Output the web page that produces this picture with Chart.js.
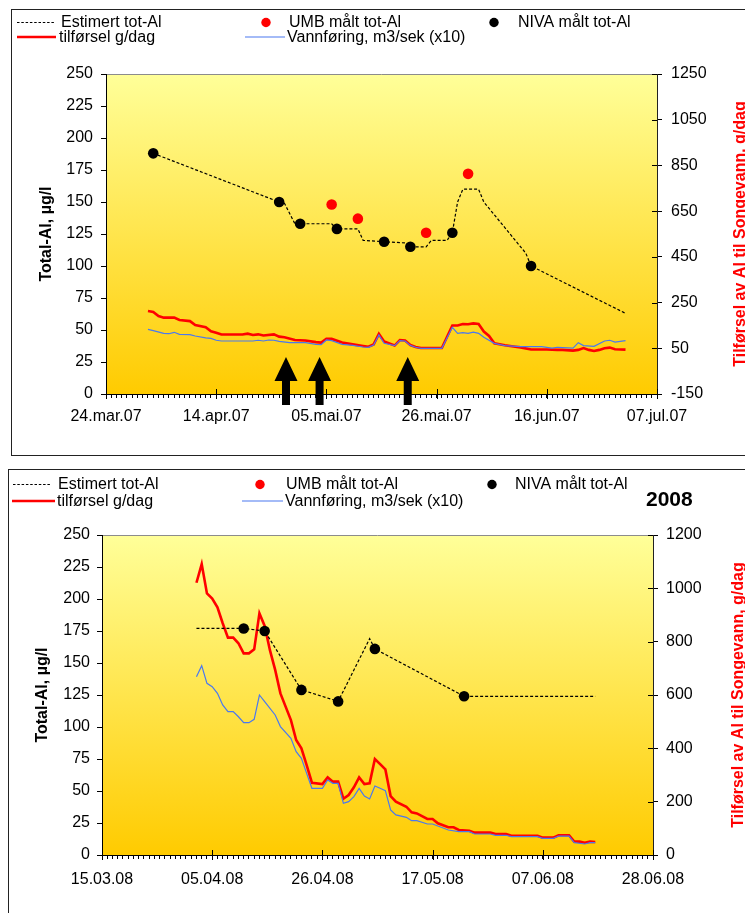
<!DOCTYPE html>
<html><head><meta charset="utf-8">
<script src="https://cdn.jsdelivr.net/npm/chart.js@4.4.1/dist/chart.umd.min.js"></script>
<style>
html,body{margin:0;padding:0;background:#fff;width:745px;height:913px;overflow:hidden;position:relative;}
.box{position:absolute;border:1.5px solid #222;box-sizing:border-box;}
#b1{left:11px;top:9px;width:760px;height:447px;}
#b2{left:8px;top:469px;width:760px;height:470px;}
canvas{position:absolute;left:0;}
#c1{top:0;}
#c2{top:462px;}
</style></head><body>
<div class="box" id="b1"></div><div class="box" id="b2"></div>
<canvas id="c1" width="745" height="460"></canvas>
<canvas id="c2" width="745" height="451"></canvas>
<script>
const FONT = "'Liberation Sans', Arial, Helvetica, sans-serif";

// ================= 2007 (x = days after 24.mar.07) =================
const xLabels07 = ['24.mar.07','14.apr.07','05.mai.07','26.mai.07','16.jun.07','07.jul.07'];
const rightTicks07 = [-150,50,250,450,650,850,1050,1250];
const estDay07 = [9,33,34,36,43,44,48,49,53,57,58,61,62,65,66,67,68,71,72,80,81,99];
const estVal07 = [188,150,149,133,133,129,129,120,119,118,115,115,120,120,126,150,160,160,150,110,100,63];
const umbDay07 = [43,48,61,69];
const umbVal07 = [148,137,126,172];
const nivaDay07 = [9,33,37,44,53,58,66,81];
const nivaVal07 = [188,150,133,129,119,115,126,100];
const flowDay07 = [8,9,11,12,13,14,16,17,19,20,21,22,28,29,30,31,32,33,35,38,40,41,42,43,45,47,49,50,51,52,53,55,56,57,58,59,60,64,66,67,68,69,70,71,72,74,76,79,83,85,86,89,90,91,93,95,96,97,99];
const flowVal07 = [50.5,49.5,47.4,47.1,48.2,46.6,46.4,45.3,43.8,43.5,42,41.4,41.4,42,41.4,42.2,42,41.1,40.1,40.1,38.8,38.5,42.2,41.7,38.8,38,36.7,36.5,38.3,46.1,39.6,37.8,41.7,41.4,38,36.5,35.7,35.7,52.1,47.4,47.9,47.4,48.4,47.4,44.3,39.6,37.8,37,37,35.9,36.5,35.9,40.1,37.8,37.2,41.4,42,40.6,41.7];
const loadDay07 = [8,9,10,11,13,14,16,17,19,20,21,22,26,27,28,29,30,32,33,34,36,38,40,41,42,43,45,47,49,50,51,52,53,55,56,57,58,59,60,64,66,67,68,69,70,71,72,73,74,76,78,79,81,84,86,87,89,90,91,92,93,94,95,96,97,99];
const loadVal07 = [213,209,191,184,184,174,169,152,142,124,118,110,110,114,108,111,106,111,101,98,86,84,77,75,91,91,75,67,60,57,67,113,80,62,86,84,64,56,51,51,150,150,156,155,159,156,123,104,72,63,57,54,45,45,43,43,40,43,51,43,38,43,50,53,46,44];
const arrowDay07 = [34.3, 40.7, 57.5];

// ================= 2008 (x = days after 15.03.08) =================
const xLabels08 = ['15.03.08','05.04.08','26.04.08','17.05.08','07.06.08','28.06.08'];
const rightTicks08 = [0,200,400,600,800,1000,1200];
const estDay08 = [18,27,31,38,45,51,52,69,94];
const estVal08 = [177,177,175,129,120,169,161,124,124];
const umbDay08 = [];
const umbVal08 = [];
const nivaDay08 = [27,31,38,45,52,69];
const nivaVal08 = [177,175,129,120,161,124];
const flowDay08 = [18,19,20,21,22,23,24,25,26,27,28,29,30,31,33,34,36,37,38,39,40,42,43,44,45,46,47,48,49,50,51,52,53,54,55,56,58,59,60,62,63,66,68,70,71,74,75,77,78,83,84,86,87,89,90,92,93,94];
const flowVal08 = [139.3,147.9,134.1,131.5,126.3,117.2,112,112,108,103.4,103.4,106,125,119.8,109.4,100.3,91.1,80.7,75.5,63.8,52.1,52.1,58.6,56,56,40.4,41.7,45.6,52.1,46.1,43.8,53.9,52.1,50.3,35.2,31.3,29.4,26.8,26.8,24.2,24.2,19.5,18.2,18.2,16.4,16.4,15.4,15.4,14.3,14.3,13,13,14.8,14.8,9.6,8.6,9.6,9.6];
const loadDay08 = [18,19,20,21,22,23,24,25,26,27,28,29,30,31,32,33,34,36,37,38,39,40,42,43,44,45,46,47,48,49,50,51,52,53,54,55,56,58,59,60,62,63,64,66,67,68,70,71,74,75,77,78,83,84,86,87,89,90,91,92,93,94];
const loadVal08 = [1021,1091,981,962,929,869,815,815,794,756,756,771,906,859,768,694,606,506,431,400,337,271,266,291,275,275,211,225,254,291,266,269,360,341,321,221,200,181,160,156,135,135,119,104,104,94,91,84,84,79,79,72,72,65,65,74,74,50,50,46,50,49];

const dayTicks = Array.from({length:106}, (_, i) => i);
const toPts = (xs, ys) => xs.map((x, i) => ({x: x, y: ys[i]}));

const RED = '#ff0000', BLUE = '#4a78f0';

function buildChart(id, o) {
  const plugins = [
    { id:'bg', beforeDraw(chart){
        const {ctx, chartArea:a} = chart;
        const g = ctx.createLinearGradient(0, a.top, 0, a.bottom);
        g.addColorStop(0, '#FFFF99'); g.addColorStop(1, '#FFCB00');
        ctx.save(); ctx.fillStyle = g;
        ctx.fillRect(a.left, a.top, a.right - a.left, a.bottom - a.top);
        ctx.strokeStyle = '#8c8c8c'; ctx.lineWidth = 1;
        ctx.beginPath(); ctx.moveTo(a.left, a.top + 0.5); ctx.lineTo(a.right, a.top + 0.5); ctx.stroke();
        ctx.restore();
    }},
    { id:'extra', afterDraw(chart){
        const {ctx, chartArea:a, scales} = chart;
        const x = scales.x, yR = scales.yR, y = scales.y;
        ctx.save();
        ctx.strokeStyle = '#000'; ctx.lineWidth = 1; ctx.beginPath();
        x.ticks.forEach(t => { if (t.value % 21 === 0) { const px = Math.round(x.getPixelForValue(t.value)) + 0.5; ctx.moveTo(px, x.top - 5); ctx.lineTo(px, x.top + 5); } });
        yR.ticks.forEach(t => { const py = Math.round(yR.getPixelForValue(t.value)) + 0.5; ctx.moveTo(yR.left - 5, py); ctx.lineTo(yR.left, py); });
        ctx.stroke();
        (o.arrows || []).forEach(d => {
          const px = x.getPixelForValue(d);
          const tip = y.getPixelForValue(29), bot = y.getPixelForValue(-8.5);
          ctx.fillStyle = '#000'; ctx.beginPath();
          ctx.moveTo(px, tip); ctx.lineTo(px + 11.5, tip + 24); ctx.lineTo(px + 4, tip + 24);
          ctx.lineTo(px + 4, bot); ctx.lineTo(px - 4, bot); ctx.lineTo(px - 4, tip + 24);
          ctx.lineTo(px - 11.5, tip + 24); ctx.closePath(); ctx.fill();
        });
        ctx.save();
        ctx.translate(o.rTitleX, (a.top + a.bottom) / 2); ctx.rotate(-Math.PI / 2);
        ctx.font = 'bold 16px ' + FONT; ctx.fillStyle = RED; ctx.textAlign = 'center'; ctx.textBaseline = 'middle';
        ctx.fillText('Tilførsel av Al til Songevann, g/dag', 0, 0);
        ctx.restore();
        ctx.font = '16px ' + FONT; ctx.textBaseline = 'middle'; ctx.textAlign = 'left';
        o.legend.forEach(it => {
          ctx.save();
          if (it.type === 'dash') { ctx.strokeStyle = '#000'; ctx.lineWidth = 1.2; ctx.setLineDash([2.5, 1.8]); ctx.beginPath(); ctx.moveTo(it.x1, it.y); ctx.lineTo(it.x2, it.y); ctx.stroke(); }
          if (it.type === 'line') { ctx.strokeStyle = it.color; ctx.lineWidth = it.w; ctx.beginPath(); ctx.moveTo(it.x1, it.y); ctx.lineTo(it.x2, it.y); ctx.stroke(); }
          if (it.type === 'dot') { ctx.fillStyle = it.color; ctx.beginPath(); ctx.arc(it.x1, it.y, 4.7, 0, Math.PI * 2); ctx.fill(); }
          ctx.restore();
          ctx.fillStyle = '#000'; ctx.fillText(it.text, it.tx, it.y + 0.5);
        });
        if (o.year) { ctx.font = 'bold 21px ' + FONT; ctx.fillStyle = '#000'; ctx.fillText(o.year.text, o.year.x, o.year.y); }
        ctx.restore();
    }}
  ];

  const tickFont = {family: FONT, size: 16};
  return new Chart(document.getElementById(id), {
    type: 'line',
    data: { datasets: [
      { label:'tilførsel g/dag', data: toPts(o.loadDay, o.loadVal), yAxisID:'yR', borderColor: RED, borderWidth: 2.6, pointRadius: 0, tension: 0, order: 4 },
      { label:'Vannføring, m3/sek (x10)', data: toPts(o.flowDay, o.flowVal), yAxisID:'y', borderColor: BLUE, borderWidth: 1.2, pointRadius: 0, tension: 0, order: 3 },
      { label:'Estimert tot-Al', data: toPts(o.estDay, o.estVal), yAxisID:'y', borderColor:'#000', borderWidth: 1.2, borderDash:[3,2], pointRadius: 0, tension: 0, order: 2 },
      { label:'UMB målt tot-Al', data: toPts(o.umbDay, o.umbVal), yAxisID:'y', showLine:false, pointRadius: 5.3, pointBackgroundColor: RED, pointBorderColor: RED, pointBorderWidth: 0, order: 1 },
      { label:'NIVA målt tot-Al', data: toPts(o.nivaDay, o.nivaVal), yAxisID:'y', showLine:false, pointRadius: 5.3, pointBackgroundColor:'#000', pointBorderColor:'#000', pointBorderWidth: 0, order: 0 }
    ]},
    options: {
      responsive: false, animation: false, events: [],
      layout: { padding: { top: o.top, left: 0, right: 0, bottom: 0 } },
      plugins: { legend: { display: false }, tooltip: { enabled: false } },
      scales: {
        x: { type:'linear', min: 0, max: 105,
             afterBuildTicks: s => { s.ticks = dayTicks.map(v => ({value: v})); },
             ticks: { autoSkip: false, maxRotation: 0, minRotation: 0, padding: o.xPad, font: tickFont, color:'#000',
                      callback: v => (v % 21 === 0 ? o.xLabels[v / 21] : '') },
             grid: { drawOnChartArea: false, tickLength: 4, color:'#000', tickColor:'#000' },
             border: { color:'#000', width: 1 },
             afterFit: s => { s.height = o.xH; } },
        y: { position:'left', min: 0, max: 250,
             ticks: { stepSize: 25, padding: o.yPad, font: tickFont, color:'#000', callback: v => String(v) },
             grid: { drawOnChartArea: false, tickLength: 5, color:'#000', tickColor:'#000' },
             border: { color:'#000', width: 1 },
             title: { display: true, text: 'Total-Al, µg/l', color:'#000', font: {family: FONT, size: 16, weight: 'bold'}, padding: {top: o.lTitlePad, bottom: 0} },
             afterFit: s => { s.width = o.yW; } },
        yR: { position:'right', min: o.rMin, max: o.rMax,
             afterBuildTicks: s => { s.ticks = o.rTicks.map(v => ({value: v})); },
             ticks: { padding: o.rPad, font: tickFont, color:'#000', callback: v => String(v) },
             grid: { drawOnChartArea: false, tickLength: 5, color:'#000', tickColor:'#000' },
             border: { color:'#222', width: 1 },
             afterFit: s => { s.width = o.yRW; } }
      }
    },
    plugins: plugins
  });
}

buildChart('c1', {
  loadDay: loadDay07, loadVal: loadVal07, flowDay: flowDay07, flowVal: flowVal07,
  estDay: estDay07, estVal: estVal07, umbDay: umbDay07, umbVal: umbVal07, nivaDay: nivaDay07, nivaVal: nivaVal07,
  xLabels: xLabels07, rMin: -150, rMax: 1250, rTicks: rightTicks07, arrows: arrowDay07,
  top: 74, yW: 106, yRW: 88, xH: 66, xPad: 9, yPad: 8, rPad: 9, lTitlePad: 37.4, rTitleX: 741,
  legend: [
    {type:'dash', x1:17, x2:55, y:22.5, text:'Estimert tot-Al', tx:61},
    {type:'dot', color: RED, x1:266, y:22.5, text:'UMB målt tot-Al', tx:289},
    {type:'dot', color:'#000', x1:494, y:22.5, text:'NIVA målt tot-Al', tx:518},
    {type:'line', color: RED, w:2.6, x1:17, x2:56, y:37, text:'tilførsel g/dag', tx:59},
    {type:'line', color: BLUE, w:1.2, x1:245, x2:285, y:37, text:'Vannføring, m3/sek (x10)', tx:287}
  ]
});

buildChart('c2', {
  loadDay: loadDay08, loadVal: loadVal08, flowDay: flowDay08, flowVal: flowVal08,
  estDay: estDay08, estVal: estVal08, umbDay: umbDay08, umbVal: umbVal08, nivaDay: nivaDay08, nivaVal: nivaVal08,
  xLabels: xLabels08, rMin: 0, rMax: 1200, rTicks: rightTicks08,
  top: 73, yW: 102, yRW: 92, xH: 58, xPad: 11, yPad: 7, rPad: 8, lTitlePad: 33.4, rTitleX: 739,
  legend: [
    {type:'dash', x1:13, x2:51, y:22.5, text:'Estimert tot-Al', tx:58},
    {type:'dot', color: RED, x1:260, y:22.5, text:'UMB målt tot-Al', tx:286},
    {type:'dot', color:'#000', x1:492, y:22.5, text:'NIVA målt tot-Al', tx:515},
    {type:'line', color: RED, w:2.6, x1:12, x2:55, y:39, text:'tilførsel g/dag', tx:57},
    {type:'line', color: BLUE, w:1.2, x1:242, x2:283, y:39, text:'Vannføring, m3/sek (x10)', tx:285}
  ],
  year: {text:'2008', x:646, y:38}
});
</script>
</body></html>
